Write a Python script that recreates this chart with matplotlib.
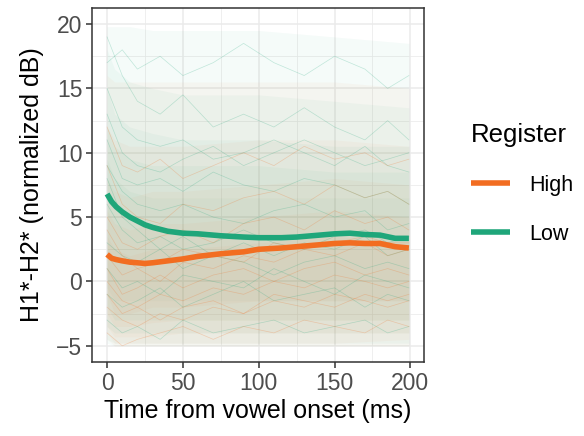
import matplotlib
matplotlib.use("Agg")
import matplotlib.pyplot as plt

plt.rcParams['font.family'] = ['Liberation Sans', 'DejaVu Sans']

# mean curves
mean_t = [0, 3, 6, 10, 15, 20, 25, 30, 40, 50, 60, 75, 90, 100, 115, 125, 140, 150, 160, 170, 180, 190, 199]
low_mean = [6.8, 6.2, 5.8, 5.4, 5.0, 4.7, 4.4, 4.2, 3.9, 3.75, 3.7, 3.55, 3.45, 3.4, 3.4, 3.45, 3.6, 3.7, 3.75, 3.65, 3.6, 3.35, 3.35]
high_mean = [2.1, 1.8, 1.7, 1.6, 1.5, 1.45, 1.4, 1.45, 1.6, 1.75, 1.95, 2.15, 2.3, 2.5, 2.6, 2.7, 2.85, 2.95, 3.0, 2.95, 2.95, 2.7, 2.6]

# spread of the individual trajectories (visual envelopes, faint -> dense)
band_t = [0, 5, 15, 30, 50, 100, 150, 199]
low_bands = [
    ([-4.8, -5.0, -5.0, -5.0, -5.0, -5.0, -5.0, -5.0], [19.8, 19.8, 19.8, 19.5, 19.5, 19.5, 19.0, 18.5]),
    ([-4.5, -4.8, -4.8, -4.8, -4.8, -4.8, -4.8, -4.8], [18.0, 16.5, 15.5, 15.0, 14.5, 14.5, 14.0, 13.5]),
    ([-3.5, -4.0, -4.0, -4.0, -4.0, -4.0, -4.0, -4.0], [15.0, 13.0, 12.0, 11.5, 11.0, 11.0, 10.5, 10.5]),
    ([-2.0, -3.0, -3.0, -3.0, -3.0, -3.0, -3.0, -3.0], [12.0, 10.5, 9.5, 9.0, 9.0, 9.0, 8.5, 8.5]),
    ([-0.5, -1.5, -1.5, -1.5, -1.5, -1.5, -1.5, -1.5], [9.5, 8.0, 7.0, 6.5, 6.5, 6.5, 6.5, 6.5]),
]
high_bands = [
    ([-4.5, -5.0, -5.0, -5.0, -5.0, -5.0, -5.0, -5.0], [16.0, 15.5, 15.5, 15.5, 15.5, 15.5, 15.5, 15.0]),
    ([-4.0, -4.8, -4.8, -4.8, -4.8, -4.8, -4.8, -4.5], [12.0, 11.0, 10.5, 10.5, 10.5, 11.0, 11.0, 10.5]),
    ([-3.5, -4.3, -4.3, -4.3, -4.0, -4.0, -4.0, -4.0], [8.0, 7.0, 6.5, 7.0, 7.0, 7.5, 8.0, 7.5]),
    ([-2.5, -3.5, -3.5, -3.2, -3.0, -3.0, -3.0, -3.0], [5.5, 4.5, 4.0, 4.5, 4.5, 5.0, 5.5, 5.0]),
    ([-1.0, -2.5, -2.5, -2.0, -2.0, -1.5, -1.5, -1.5], [3.5, 2.5, 2.0, 2.5, 2.5, 3.0, 3.5, 3.0]),
]

# a sample of individual trajectories
traj_t = [0, 10, 20, 35, 50, 70, 90, 110, 130, 150, 170, 185, 199]
low_traj = [
    [15, 12, 11, 10.5, 11, 9.5, 10, 11, 10, 9, 10.5, 9, 8.5],
    [9, 7, 6, 5.5, 6, 5, 4.5, 5.5, 6, 5, 5.5, 4, 4.5],
    [3, 2, 1.5, 2.5, 1, 2, 1.5, 0.5, 1.5, 2, 1, 1.5, 1],
    [19, 16, 14, 13, 14.5, 12, 13, 12, 13.5, 12, 11, 12.5, 11],
    [6, 4, 3, 3.5, 2.5, 3, 4, 3, 2.5, 3.5, 4, 3, 3.5],
    [-1, -2, -1.5, -0.5, -2, -1, 0, -1.5, -1, -0.5, -2, -1, -1.5],
    [11, 8, 7.5, 8, 7, 8.5, 7.5, 7, 8, 7.5, 6.5, 7, 6],
    [1, -0.5, 0, -1, 0.5, 0, -0.5, 1, 0, -1, 0.5, 0, -0.5],
    [8, 5, 4, 2.5, 3.5, 2, 3, 2, 3, 2.5, 3.5, 2, 2.5],
    [-3, -4, -3.5, -4.5, -3, -4, -3.5, -3, -4, -3.5, -3, -4, -3.5],
    [17, 18, 16.5, 17.5, 16, 17, 18.5, 17, 16, 17.5, 16.5, 15, 16],
    [13, 10, 9, 8.5, 9.5, 10.5, 9, 10, 11, 10, 9, 9.5, 10],
]
high_traj = [
    [5, 3, 2.5, 3.5, 4, 3, 4.5, 5, 4, 5.5, 4.5, 5, 4],
    [0, -1.5, -2, -1, -1.5, -0.5, -1, 0, -0.5, 0.5, 0, -0.5, 0],
    [-2, -3, -3.5, -2.5, -3, -2, -2.5, -1.5, -2, -1, -1.5, -2, -1.5],
    [9, 6, 5, 4.5, 6, 5.5, 6.5, 7, 6, 7.5, 6.5, 7, 6],
    [2, 0.5, 1, 0, 1.5, 1, 2, 1.5, 2.5, 2, 3, 2, 2.5],
    [-4, -5, -4.5, -4, -3.5, -4.5, -3.5, -4, -3, -3.5, -4, -3, -3.5],
    [12, 9, 8.5, 9.5, 8, 9, 10, 9, 10.5, 9.5, 10, 9, 9.5],
    [1, -1, -0.5, 0.5, -0.5, 0.5, 1, 0, 1, 1.5, 0.5, 1, 0.5],
    [4, 2, 1, 1.5, 2.5, 2, 1.5, 3, 2.5, 3, 3.5, 3, 3],
    [-1, -2.5, -2, -3, -2, -1.5, -2.5, -1, -1.5, -2, -1, -1.5, -1],
]

green = "#1FA67A"
orange = "#F26D21"

fig = plt.figure(figsize=(5.84, 4.36), dpi=100)
ax = fig.add_axes([0.1575, 0.170, 0.5685, 0.8117])

# layered envelopes to mimic the density of the thin lines
for lo, hi in low_bands:
    ax.fill_between(band_t, lo, hi, color=green, alpha=0.045, lw=0, zorder=1)
for lo, hi in high_bands:
    ax.fill_between(band_t, lo, hi, color=orange, alpha=0.04, lw=0, zorder=1)

for tr in low_traj:
    ax.plot(traj_t, tr, color=green, lw=0.5, alpha=0.25, zorder=2)
for tr in high_traj:
    ax.plot(traj_t, tr, color=orange, lw=0.5, alpha=0.25, zorder=2)

ax.plot(mean_t, high_mean, color=orange, lw=4, solid_capstyle='butt', zorder=4, label="High")
ax.plot(mean_t, low_mean, color=green, lw=4, solid_capstyle='butt', zorder=4, label="Low")

ax.set_xlim(-9.95, 208.95)
ax.set_ylim(-6.25, 21.25)
ax.set_xticks([0, 50, 100, 150, 200])
ax.set_yticks([-5, 0, 5, 10, 15, 20])
ax.set_xticks([25, 75, 125, 175], minor=True)
ax.set_yticks([-2.5, 2.5, 7.5, 12.5, 17.5], minor=True)
ax.grid(which='major', color="#EBEBEB", lw=1.1, zorder=0)
ax.grid(which='minor', color="#EBEBEB", lw=0.55, zorder=0)
ax.set_axisbelow(True)
ax.tick_params(which='major', length=4, width=1.1, color="#333333", labelsize=16.5, labelcolor="#4D4D4D", pad=3)
ax.tick_params(which='minor', length=0)
for s in ax.spines.values():
    s.set_color("#333333")
    s.set_linewidth(1.1)

ax.set_xlabel("Time from vowel onset (ms)", fontsize=18, labelpad=3)
ax.set_ylabel("H1*-H2* (normalized dB)", fontsize=18, labelpad=9)

leg = fig.legend(loc='center left', bbox_to_anchor=(0.773, 0.578), frameon=False,
                 title="Register", fontsize=15.5, title_fontsize=18.5,
                 handlelength=1.8, handletextpad=0.9, labelspacing=1.3)
leg._legend_box.align = "left"

fig.savefig("out.png", dpi=100)
